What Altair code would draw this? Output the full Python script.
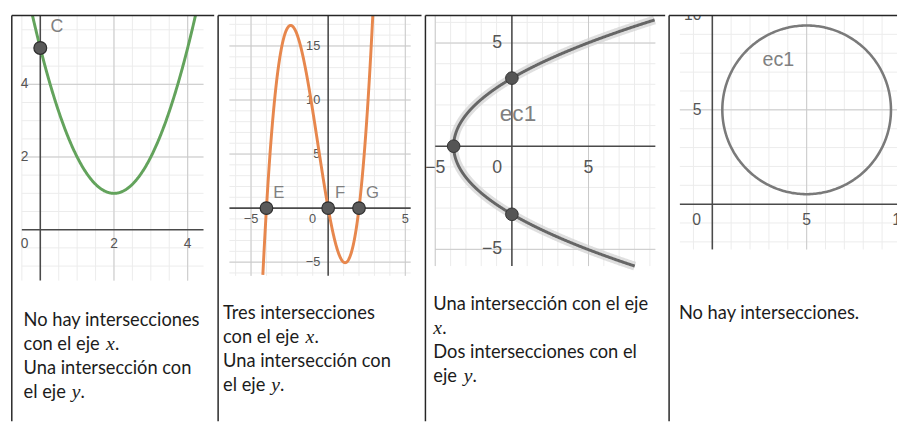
import numpy as np
import pandas as pd
import altair as alt

# ---------------- page geometry (pixels) ----------------
COL_EDGES = [10, 216, 423, 667, 899]
PAGE_TOP = 10
PLOT_H, TEXT_H = 280, 133
CELL_H = PLOT_H + TEXT_H

BORDER = "#262626"
MINOR = "#ececec"
MAJOR = "#c9c9c9"
AXIS = "#4a4a4a"
TICK_TXT = "#555555"
NAME_TXT = "#808080"
BODY_FONT = "Lato"
BODY_SIZE = 18.6
MATH_FONT = "Liberation Serif"
TICK_FONT = "Liberation Sans"

# ---------------- graph contents ----------------
# 1) parabola y = x^2 - 4x + 5 with its y-intercept C
parab_coef = [1.0, -4.0, 5.0]
parab_pts_x = [0.0]
parab_pts_y = [5.0]
parab_pts_name = ["C"]

# 2) cubic y = x^3 + 2x^2 - 8x with its roots E, F, G
cubic_coef = [1.0, 2.0, -8.0, 0.0]
cubic_pts_x = [-4.0, 0.0, 2.0]
cubic_pts_y = [0.0, 0.0, 0.0]
cubic_pts_name = ["E", "F", "G"]

# 3) horizontal parabola x = 0.35 y^2 - 3.8  (ec1)
side_coef = [0.35, 0.0, -3.8]
side_pts_x = [-3.8, 0.0, 0.0]
side_pts_y = [0.0, 3.3, -3.3]
side_name_pos = [0.4, 1.55]

# 4) circle (x-5)^2 + (y-5)^2 = 20  (ec1)
circ_center = [5.0, 5.0]
circ_radius = 4.47
circ_name_pos = [3.5, 7.65]

# tick labels of each graph
ticks_x = [[2, 4], [-5, 5], [-5, 5], [5, 10]]
ticks_y = [[2, 4, 6], [-5, 5, 10, 15], [-5, 5], [5, 10]]

# description text of each cell: (text, x offset, style)
cell_lines = [
    [[("No hay intersecciones", 0, "n")],
     [("con el eje ", 0, "n"), ("x", 84, "i"), (".", 93, "n")],
     [("Una intersección con", 0, "n")],
     [("el eje ", 0, "n"), ("y", 49, "i"), (".", 58, "n")]],
    [[("Tres intersecciones", 0, "n")],
     [("con el eje ", 0, "n"), ("x", 84, "i"), (".", 93, "n")],
     [("Una intersección con", 0, "n")],
     [("el eje ", 0, "n"), ("y", 49, "i"), (".", 58, "n")]],
    [[("Una intersección con el eje", 0, "n")],
     [("x", 0, "i"), (".", 9, "n")],
     [("Dos intersecciones con el", 0, "n")],
     [("eje ", 0, "n"), ("y", 31, "i"), (".", 40, "n")]],
    [[("No hay intersecciones.", 0, "n")]],
]
cell_text_x = [12, 5, 8, 10]
cell_text_y = [30, 23, 14, 23]   # below the graph area
LINE_STEP = 24.5

# ---------------- graph windows ----------------
panels = [
    dict(origin=(39, 228), unit=(37.5, 37.0), gx=(-0.5, 4.43), gy=(-1.4, None),
         minor=0.5, major=2, fsize=14, xdy=15, ydx=-12, odx=-16, ody=15),
    dict(origin=(328, 206), unit=(15.7, 11.0), gx=(-6.4, 5.35), gy=(-6.27, None),
         minor=1, major=5, fsize=13, xdy=11, ydx=-8, odx=-16, ody=11),
    dict(origin=(511, 143), unit=(15.6, 21.0), gx=(-5.0, 9.36), gy=(-5.81, None),
         minor=1, major=5, fsize=18, xdy=22, ydx=-10, odx=-15, ody=22),
    dict(origin=(711, 202), unit=(19.2, 19.2), gx=(-1.72, None), gy=(-2.4, None),
         minor=1, major=5, fsize=16, xdy=16, ydx=-11, odx=-16, ody=16),
]


def multiples(step, lo, hi):
    k0 = int(np.ceil(lo / step - 1e-9))
    k1 = int(np.floor(hi / step + 1e-9))
    return [k * step for k in range(k0, k1 + 1)]


def minus(v):
    return f"{v:g}".replace("-", "\u2212")


def cell(i):
    p = panels[i]
    left, right = COL_EDGES[i], COL_EDGES[i + 1]
    W = right - left
    ox, oy = p["origin"]
    sx, sy = p["unit"]
    xdom = [(left - ox) / sx, (right - ox) / sx]
    ydom = [(oy - (PAGE_TOP + CELL_H)) / sy, (oy - PAGE_TOP) / sy]
    gx0, gx1 = p["gx"][0], p["gx"][1] if p["gx"][1] is not None else xdom[1]
    gy0, gy1 = p["gy"][0], p["gy"][1] if p["gy"][1] is not None else ydom[1]

    xs = alt.Scale(domain=xdom, nice=False, zero=False)
    ys = alt.Scale(domain=ydom, nice=False, zero=False)
    X = lambda f: alt.X(f, type="quantitative", scale=xs, axis=None)
    Y = lambda f: alt.Y(f, type="quantitative", scale=ys, axis=None)

    layers = []
    # grid
    for step, col in [(p["minor"], MINOR), (p["major"], MAJOR)]:
        vx = [v for v in multiples(step, gx0, gx1) if abs(v) > 1e-9]
        hy = [v for v in multiples(step, gy0, gy1) if abs(v) > 1e-9]
        dv = pd.DataFrame({"x": vx, "y": gy0, "y2": gy1})
        dh = pd.DataFrame({"y": hy, "x": gx0, "x2": gx1})
        layers.append(alt.Chart(dv).mark_rule(color=col, strokeWidth=1).encode(
            x=X("x"), y=Y("y"), y2="y2"))
        layers.append(alt.Chart(dh).mark_rule(color=col, strokeWidth=1).encode(
            y=Y("y"), x=X("x"), x2="x2"))
    # axes
    layers.append(alt.Chart(pd.DataFrame({"x": [0.0], "y": [gy0], "y2": [gy1]}))
                  .mark_rule(color=AXIS, strokeWidth=1.6).encode(x=X("x"), y=Y("y"), y2="y2"))
    layers.append(alt.Chart(pd.DataFrame({"y": [0.0], "x": [gx0], "x2": [gx1]}))
                  .mark_rule(color=AXIS, strokeWidth=1.6).encode(y=Y("y"), x=X("x"), x2="x2"))

    # tick labels
    dxl = pd.DataFrame({"x": ticks_x[i], "y": 0.0, "t": [minus(v) for v in ticks_x[i]]})
    dyl = pd.DataFrame({"y": ticks_y[i], "x": 0.0, "t": [minus(v) for v in ticks_y[i]]})
    dol = pd.DataFrame({"x": [0.0], "y": [0.0], "t": ["0"]})
    tk = dict(font=TICK_FONT, fontSize=p["fsize"], color=TICK_TXT, baseline="middle", clip=True)
    layers.append(alt.Chart(dxl).mark_text(align="center", dy=p["xdy"], **tk).encode(
        x=X("x"), y=Y("y"), text="t:N"))
    layers.append(alt.Chart(dyl).mark_text(align="right", dx=p["ydx"], **tk).encode(
        x=X("x"), y=Y("y"), text="t:N"))
    layers.append(alt.Chart(dol).mark_text(align="center", dx=p["odx"], dy=p["ody"], **tk).encode(
        x=X("x"), y=Y("y"), text="t:N"))

    # curves, points and names
    if i == 0:
        cx = np.linspace(gx0, gx1, 400)
        cy = np.polyval(parab_coef, cx)
        d = pd.DataFrame({"x": cx, "y": cy, "i": np.arange(len(cx))})
        layers.append(alt.Chart(d).mark_line(color="#63a35c", strokeWidth=3, clip=True).encode(
            x=X("x"), y=Y("y"), order="i:Q"))
        dp = pd.DataFrame({"x": parab_pts_x, "y": parab_pts_y, "t": parab_pts_name})
        layers.append(alt.Chart(dp).mark_circle(size=170, color="#5a5a5a", opacity=1,
                                                 stroke="#2e2e2e", strokeWidth=1.2).encode(x=X("x"), y=Y("y")))
        layers.append(alt.Chart(dp).mark_text(font=TICK_FONT, fontSize=18, color=NAME_TXT,
                                               align="center", baseline="middle", dx=17, dy=-21).encode(
            x=X("x"), y=Y("y"), text="t:N"))
    elif i == 1:
        cx = np.linspace(gx0, gx1, 1200)
        cy = np.polyval(cubic_coef, cx)
        keep = cy >= gy0
        d = pd.DataFrame({"x": cx[keep], "y": cy[keep], "i": np.arange(keep.sum())})
        layers.append(alt.Chart(d).mark_line(color="#e7874d", strokeWidth=3, clip=True).encode(
            x=X("x"), y=Y("y"), order="i:Q"))
        dp = pd.DataFrame({"x": cubic_pts_x, "y": cubic_pts_y, "t": cubic_pts_name})
        layers.append(alt.Chart(dp).mark_circle(size=165, color="#5a5a5a", opacity=1,
                                                 stroke="#2e2e2e", strokeWidth=1.2).encode(x=X("x"), y=Y("y")))
        layers.append(alt.Chart(dp).mark_text(font=TICK_FONT, fontSize=17, color=NAME_TXT,
                                               align="left", baseline="middle", dx=7, dy=-15).encode(
            x=X("x"), y=Y("y"), text="t:N"))
    elif i == 2:
        cy = np.linspace(gy0, gy1, 800)
        cx = np.polyval(side_coef, cy)
        keep = cx <= gx1
        d = pd.DataFrame({"x": cx[keep], "y": cy[keep], "i": np.arange(keep.sum())})
        layers.append(alt.Chart(d).mark_line(color="#d2d2d2", strokeWidth=9, opacity=0.7, clip=True).encode(
            x=X("x"), y=Y("y"), order="i:Q"))
        layers.append(alt.Chart(d).mark_line(color="#666666", strokeWidth=3, clip=True).encode(
            x=X("x"), y=Y("y"), order="i:Q"))
        dp = pd.DataFrame({"x": side_pts_x, "y": side_pts_y})
        layers.append(alt.Chart(dp).mark_circle(size=165, color="#555555", opacity=1,
                                                 stroke="#333333", strokeWidth=1).encode(x=X("x"), y=Y("y")))
        dn = pd.DataFrame({"x": [side_name_pos[0]], "y": [side_name_pos[1]], "t": ["ec1"]})
        layers.append(alt.Chart(dn).mark_text(font=TICK_FONT, fontSize=23, color=NAME_TXT,
                                               align="center", baseline="middle").encode(
            x=X("x"), y=Y("y"), text="t:N"))
    else:
        t = np.linspace(0, 2 * np.pi, 361)
        d = pd.DataFrame({"x": circ_center[0] + circ_radius * np.cos(t),
                          "y": circ_center[1] + circ_radius * np.sin(t),
                          "i": np.arange(len(t))})
        layers.append(alt.Chart(d).mark_line(color="#7a7a7a", strokeWidth=2.6, clip=True).encode(
            x=X("x"), y=Y("y"), order="i:Q"))
        dn = pd.DataFrame({"x": [circ_name_pos[0]], "y": [circ_name_pos[1]], "t": ["ec1"]})
        layers.append(alt.Chart(dn).mark_text(font=TICK_FONT, fontSize=20, color=NAME_TXT,
                                               align="center", baseline="middle").encode(
            x=X("x"), y=Y("y"), text="t:N"))

    # cell borders: top and left
    layers.append(alt.Chart(pd.DataFrame({"y": [ydom[1]], "x": [xdom[0]], "x2": [xdom[1]]}))
                  .mark_rule(color=BORDER, strokeWidth=1.5).encode(y=Y("y"), x=X("x"), x2="x2"))
    layers.append(alt.Chart(pd.DataFrame({"x": [xdom[0]], "y": [ydom[0]], "y2": [ydom[1]]}))
                  .mark_rule(color=BORDER, strokeWidth=1.5).encode(x=X("x"), y=Y("y"), y2="y2"))

    # description text under the graph (pixel-like scales of the cell)
    rows = []
    for k, line in enumerate(cell_lines[i]):
        for txt, off, style in line:
            rows.append({"px": cell_text_x[i] + off,
                         "py": PLOT_H + cell_text_y[i] + k * LINE_STEP,
                         "t": txt, "s": style})
    df = pd.DataFrame(rows)
    tx = alt.Scale(domain=[0, W], nice=False, zero=False)
    ty = alt.Scale(domain=[CELL_H, 0], nice=False, zero=False)
    TX = alt.X("px:Q", scale=tx, axis=None)
    TY = alt.Y("py:Q", scale=ty, axis=None)
    normal = alt.Chart(df[df.s == "n"]).mark_text(
        font=BODY_FONT, fontSize=BODY_SIZE, color="#1c1c1c", align="left", baseline="middle").encode(
        x=TX, y=TY, text="t:N")
    italic = alt.Chart(df[df.s == "i"]).mark_text(
        font=MATH_FONT, fontStyle="italic", fontSize=20, color="#1c1c1c", align="left",
        baseline="middle").encode(x=TX, y=TY, text="t:N")

    graph = alt.layer(*layers)
    words = alt.layer(normal, italic)
    return alt.layer(graph, words).resolve_scale(x="independent", y="independent").properties(
        width=W, height=CELL_H)


chart = alt.hconcat(*[cell(i) for i in range(4)], spacing=0).properties(
    padding={"left": COL_EDGES[0], "top": PAGE_TOP, "right": 0, "bottom": 0},
    background="white",
).configure_view(stroke="transparent")

chart.save("out.html", embed_options={"renderer": "svg", "actions": False})
